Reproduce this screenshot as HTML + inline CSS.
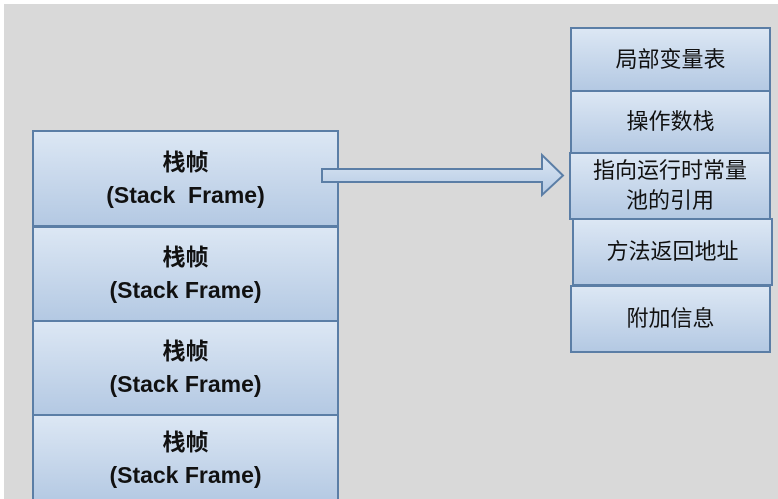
<!DOCTYPE html>
<html><head><meta charset="utf-8"><style>
html,body{margin:0;padding:0;width:778px;height:499px;overflow:hidden;}
body{background:#fff;position:relative;font-family:"Liberation Sans","Noto Sans CJK SC",sans-serif;}
.bg{position:absolute;left:4px;top:4px;right:0;bottom:0;background:#d9d9d9;}
.b{position:absolute;box-sizing:border-box;border:2px solid #5b7ea6;background:linear-gradient(#dce7f4,#b4c9e3);display:flex;align-items:center;justify-content:center;text-align:center;color:#111;}
.l{font-weight:bold;font-size:23px;line-height:33px;}
.r{font-size:22px;line-height:30px;}
</style></head><body>
<div class="bg"></div>
<div class="b l" style="left:32px;top:130px;width:307px;height:97px;">栈帧<br>(Stack&nbsp;&nbsp;Frame)</div>
<div class="b l" style="left:32px;top:226px;width:307px;height:96px;">栈帧<br>(Stack Frame)</div>
<div class="b l" style="left:32px;top:320px;width:307px;height:96px;">栈帧<br>(Stack Frame)</div>
<div class="b l" style="left:32px;top:414px;width:307px;height:90px;align-items:flex-start;padding-top:10px;">栈帧<br>(Stack Frame)</div>
<div class="b r" style="left:570px;top:27px;width:201px;height:65px;">局部变量表</div>
<div class="b r" style="left:570px;top:90px;width:201px;height:64px;">操作数栈</div>
<div class="b r" style="left:569px;top:152px;width:202px;height:68px;">指向运行时常量<br>池的引用</div>
<div class="b r" style="left:572px;top:218px;width:201px;height:68px;">方法返回地址</div>
<div class="b r" style="left:570px;top:285px;width:201px;height:68px;">附加信息</div>
<svg style="position:absolute;left:0;top:0" width="778" height="499">
<defs><linearGradient id="g" x1="0" y1="0" x2="0" y2="1"><stop offset="0" stop-color="#dce7f4"/><stop offset="1" stop-color="#b4c9e3"/></linearGradient></defs>
<polygon points="322,169 542,169 542,155 563,175.5 542,195 542,182 322,182" fill="url(#g)" stroke="#5b7ea6" stroke-width="2"/>
</svg>
</body></html>
